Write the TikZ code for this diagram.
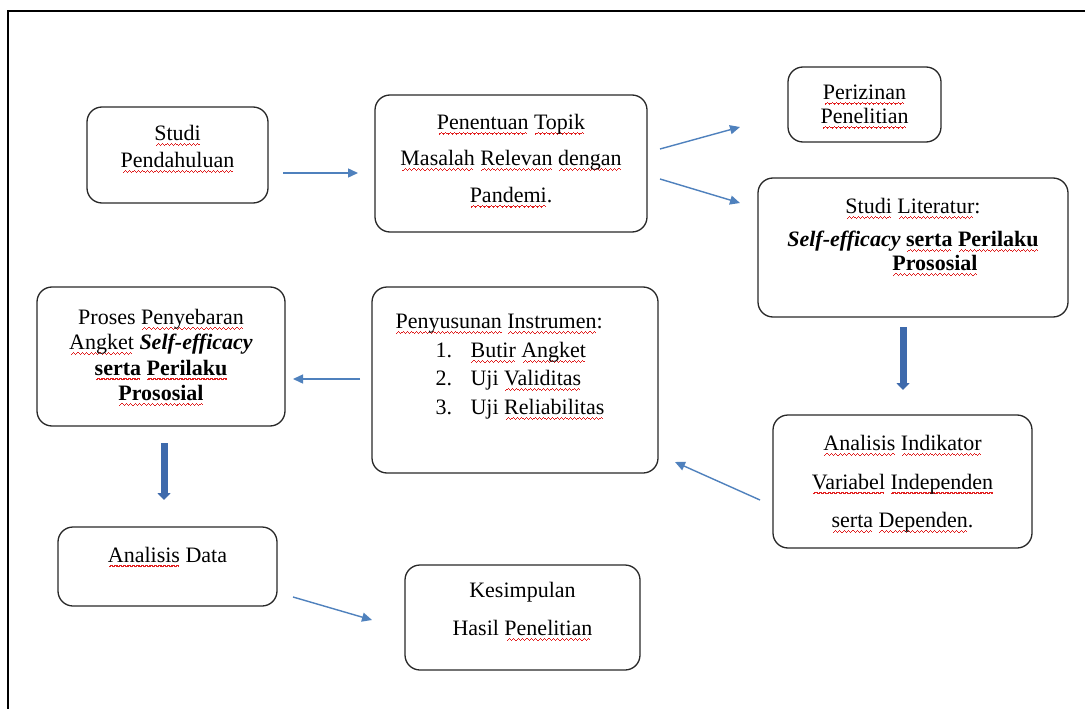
\documentclass[tikz,border=0pt]{standalone}
\usepackage{fontspec}
\setmainfont{Liberation Serif}
\usetikzlibrary{arrows.meta}
\definecolor{thinblue}{RGB}{79,129,189}
\definecolor{thickblue}{RGB}{62,106,172}
\definecolor{boxline}{RGB}{40,40,40}
\definecolor{wavered}{RGB}{225,30,30}
\newcommand\wavepat{\hbox{{\color{wavered}\rule[-5.2pt]{1.1pt}{1.1pt}\rule[-4.3pt]{1.1pt}{1.1pt}\rule[-3.4pt]{1.1pt}{1.1pt}\rule[-4.3pt]{1.1pt}{1.1pt}}}}
\newcommand\sq[1]{\setbox0\hbox{#1}\leavevmode\rlap{\hbox to \wd0{\cleaders\wavepat\hfil}}\box0\relax}
\newcommand\blk[3]{\raisebox{#1}[\height][\depth]{\fontsize{22}{#2}\selectfont\begin{tabular}{@{}c@{}}#3\end{tabular}}}
\tikzset{
  box/.style={draw=boxline, line width=1.3pt, rounded corners=15pt, inner sep=0pt, font=\fontsize{22}{26}\selectfont},
  conn/.style={draw=thinblue, line width=1.4pt, -{Triangle[width=9pt,length=10pt]}},
  bigconn/.style={draw=thickblue, line width=7pt, -{Triangle[width=13pt,length=7pt]}},
  frame/.style={draw=black, line width=1.6pt}
}
\begin{document}
\begin{tikzpicture}[x=1pt,y=-1pt]
\useasboundingbox (0,0) rectangle (1085,709);
\fill[white] (0,0) rectangle (1085,709);
\draw[frame] (8,709) -- (8,11) -- (1085,11);

\node[box, minimum width=181pt, minimum height=96pt] (sp) at (177.5,155)
  {\blk{6pt}{27pt}{\sq{Studi}\\\sq{Pendahuluan}}};
\node[box, minimum width=272pt, minimum height=137pt] (pt) at (511,163.5)
  {\blk{5pt}{36.5pt}{\sq{Penentuan} \sq{Topik}\\\sq{Masalah} \sq{Relevan} \sq{dengan}\\\sq{Pandemi}.}};
\node[box, minimum width=153pt, minimum height=75pt] (pz) at (864.5,104.5)
  {\blk{-2pt}{24pt}{\sq{Perizinan}\\\sq{Penelitian}}};
\node[box, minimum width=310pt, minimum height=139pt] (sl) at (913,247.5)
  {\blk{10pt}{24pt}{\sq{Studi} \sq{Literatur}:\\[9pt]\textbf{\textit{Self-efficacy} \sq{serta} \sq{Perilaku}}\\\hspace*{44pt}\textbf{\sq{Prososial}}}};
\node[box, minimum width=248pt, minimum height=139pt] (pp) at (161,356.5)
  {\blk{-1pt}{25.3pt}{Proses \sq{Penyebaran}\\\sq{Angket} \textbf{\textit{Self-efficacy}}\\\textbf{\sq{serta} \sq{Perilaku}}\\\textbf{\sq{Prososial}}}};
\node[box, minimum width=286pt, minimum height=186pt] (pi) at (515,380)
  {\raisebox{14pt}[\height][\depth]{\fontsize{22}{28.5pt}\selectfont\begin{tabular}{@{}l@{}}\sq{Penyusunan} \sq{Instrumen}:\\
   \hspace*{40pt}\makebox[35pt][l]{1.}\sq{Butir} \sq{Angket}\\
   \hspace*{40pt}\makebox[35pt][l]{2.}Uji \sq{Validitas}\\
   \hspace*{40pt}\makebox[35pt][l]{3.}Uji \sq{Reliabilitas}\end{tabular}\hspace*{30pt}}};
\node[box, minimum width=259pt, minimum height=133pt] (ai) at (902.5,481.5)
  {\blk{0pt}{38.5pt}{\sq{Analisis} \sq{Indikator}\\\sq{Variabel} \sq{Independen}\\\sq{serta} \sq{Dependen}.}};
\node[box, minimum width=219pt, minimum height=79pt] (ad) at (167.5,566.5)
  {\blk{9.5pt}{26pt}{\sq{Analisis} Data}};
\node[box, minimum width=235pt, minimum height=105pt] (ks) at (522.5,617.5)
  {\blk{8.5pt}{38pt}{Kesimpulan\\Hasil \sq{Penelitian}}};

\coordinate (a1s) at (283,173);  \coordinate (a1e) at (358,173);
\coordinate (a2s) at (660,149);  \coordinate (a2e) at (740,127);
\coordinate (a3s) at (660,179);  \coordinate (a3e) at (740,203);
\coordinate (a4s) at (903,327);  \coordinate (a4e) at (903,390);
\coordinate (a5s) at (760,500);  \coordinate (a5e) at (675,462);
\coordinate (a6s) at (360,379);  \coordinate (a6e) at (293,379);
\coordinate (a7s) at (164,443);  \coordinate (a7e) at (164,500);
\coordinate (a8s) at (293,597);  \coordinate (a8e) at (372,620);

\draw[conn] (a1s) -- (a1e);
\draw[conn] (a2s) -- (a2e);
\draw[conn] (a3s) -- (a3e);
\draw[bigconn] (a4s) -- (a4e);
\draw[conn] (a5s) -- (a5e);
\draw[conn] (a6s) -- (a6e);
\draw[bigconn] (a7s) -- (a7e);
\draw[conn] (a8s) -- (a8e);
\end{tikzpicture}
\end{document}
